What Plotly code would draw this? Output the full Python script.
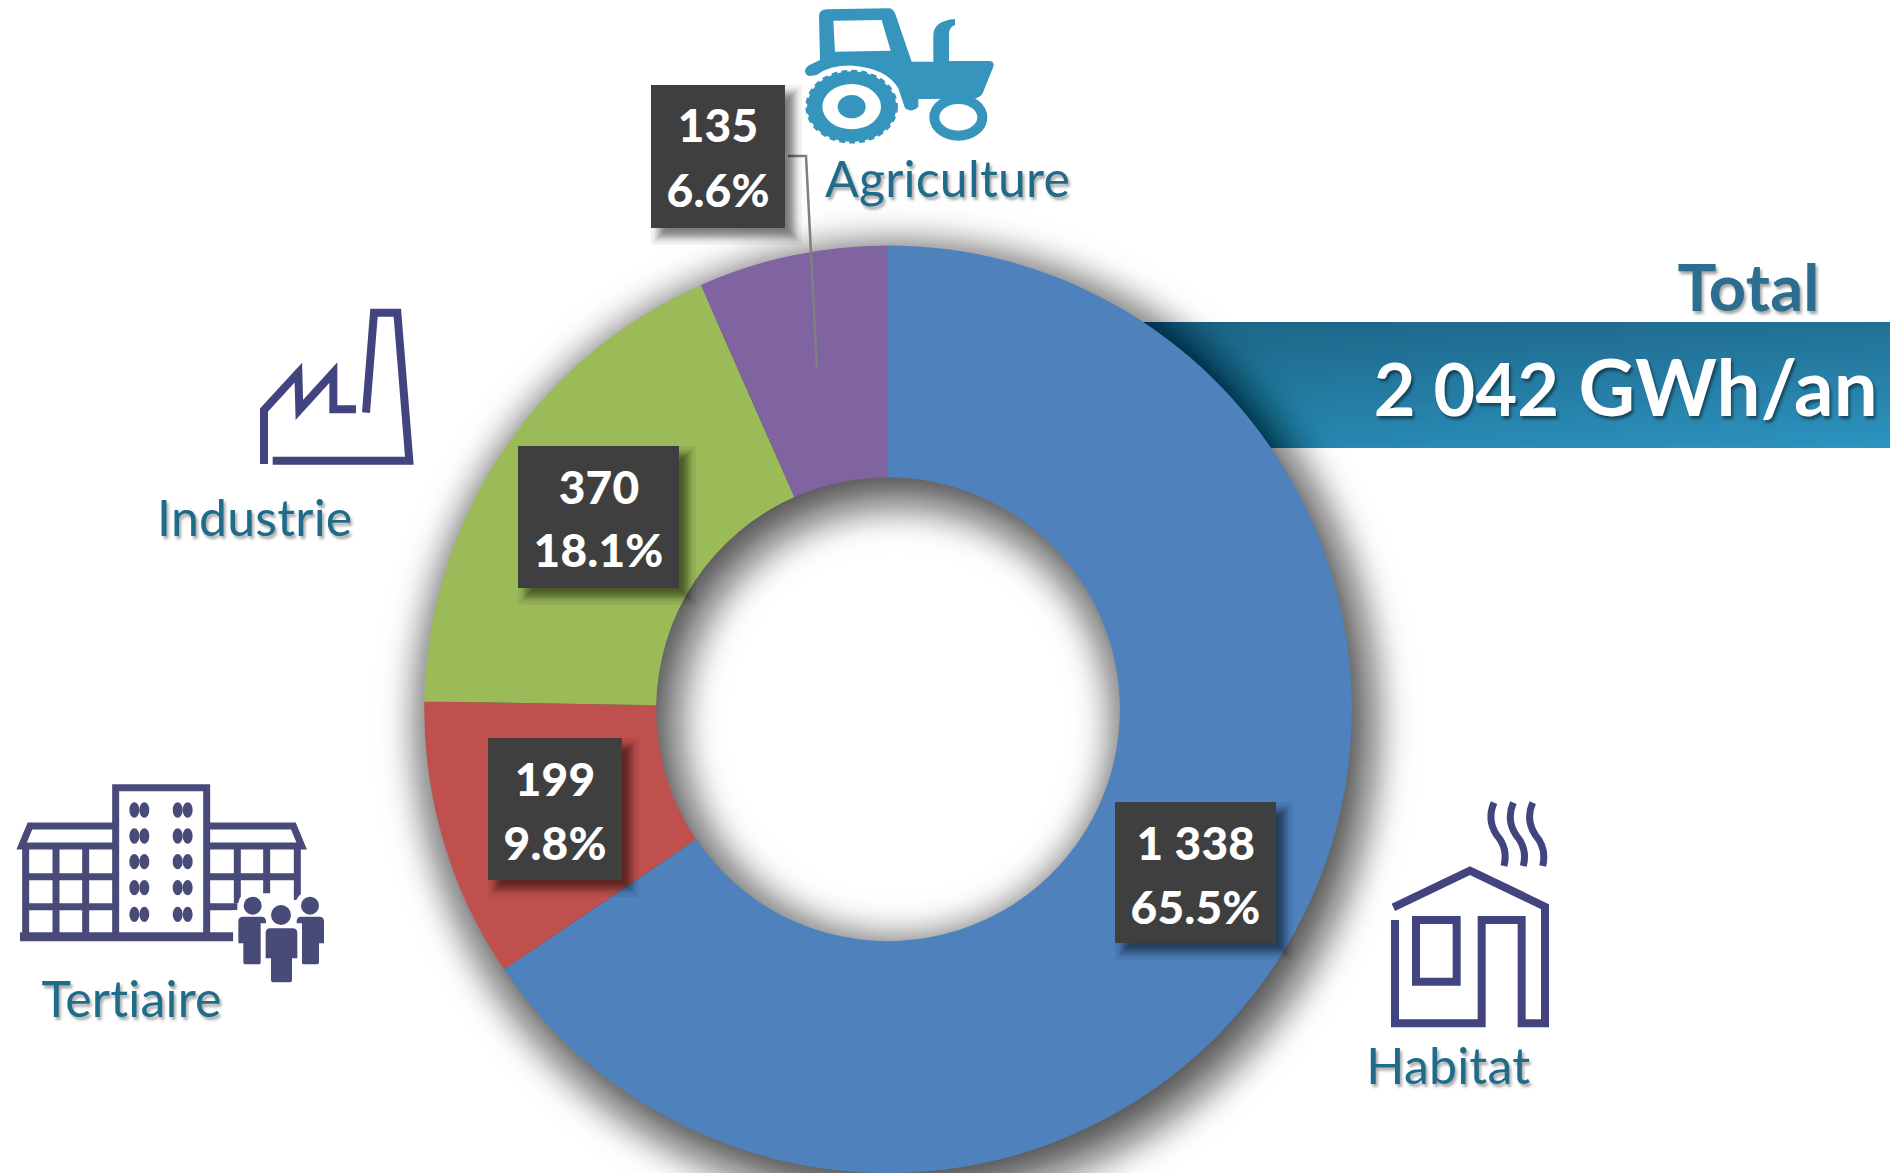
import re
from statistics import NormalDist
import plotly.graph_objects as go

# ---------- data ----------
sectors = ["Habitat", "Tertiaire", "Industrie", "Agriculture"]
gwh = [1338, 199, 370, 135]
gwh_labels = ["1 338", "199", "370", "135"]
pct_labels = ["65.5%", "9.8%", "18.1%", "6.6%"]
slice_colors = ["#4F81BD", "#C0504D", "#9BBB59", "#8064A2"]
total_title = "Total"
total_digits = "2 042"
total_unit = "GWh/an"

W, H = 1890, 1173
CX, CY, R_OUT, R_IN = 888, 709.25, 463.75, 231.9
ICON = "#41447F"
TRACTOR = "#3595BC"
TEAL = "#1F6B8A"
FONT = "Lato"

def px(x): return x / W
def py(y): return 1 - y / H

shapes, annotations = [], []

def path(d, ox=0, oy=0, k=1/3, **style):
    toks = re.findall(r"[MLQCZ]|-?\d+\.?\d*", d)
    out, is_x, cur = [], True, None
    for t in toks:
        if t in "MLQCZ":
            out.append(t); continue
        v = float(t)
        if is_x:
            cur = px(ox + v * k)
        else:
            out.append(f"{cur:.5f},{py(oy + v * k):.5f}")
        is_x = not is_x
    s = dict(type="path", xref="paper", yref="paper", path=" ".join(out),
             line=dict(width=style.pop("lw", 0), color=style.pop("lc", "rgba(0,0,0,0)")),
             fillcolor=style.pop("fill", "rgba(0,0,0,0)"), layer=style.pop("layer", "above"))
    shapes.append(s)

def rect(x0, y0, x1, y1, fill, layer="above"):
    shapes.append(dict(type="rect", xref="paper", yref="paper", x0=px(x0), x1=px(x1),
                       y0=py(y1), y1=py(y0), fillcolor=fill, line=dict(width=0), layer=layer))

def ell(cx, cy, rx, ry, fill="rgba(0,0,0,0)", lw=0, lc="rgba(0,0,0,0)", layer="above", dash=None):
    ln = dict(width=lw, color=lc)
    if dash: ln["dash"] = dash
    shapes.append(dict(type="circle", xref="paper", yref="paper", x0=px(cx - rx), x1=px(cx + rx),
                       y0=py(cy + ry), y1=py(cy - ry), fillcolor=fill, line=ln, layer=layer))

def text(x, y, s, size, color, weight="normal", anchor="center", shadow="none", vanchor="middle"):
    annotations.append(dict(x=px(x), y=py(y), xref="paper", yref="paper", text=s, showarrow=False,
                            xanchor=anchor, yanchor=vanchor, borderpad=0,
                            font=dict(family=FONT, size=size, color=color, weight=weight, shadow=shadow)))

# ---------- teal band, gradient built from strips ----------
B_X0, B_X1, B_Y0, B_Y1 = 1120, 1890, 322, 448
n_cols = 77
for i in range(n_cols):
    t = i / (n_cols - 1)
    c = (round(38 + 7 * t), round(132 + 16 * t), round(172 + 20 * t))
    rect(B_X0 + i * 10, B_Y0, B_X0 + (i + 1) * 10, B_Y1, f"rgb{c}", layer="below")
n_rows = 42
for j in range(n_rows):
    a = 0.30 * (1 - j / (n_rows - 1))
    rect(B_X0, B_Y0 + j * 3, B_X1, B_Y0 + (j + 1) * 3, f"rgba(10,30,50,{a:.3f})", layer="below")

# ---------- soft shadow of the ring, stacked translucent rings ----------
nd = NormalDist()
N = 80
SX, SY, SIG = 9, 14, 30
mid = (R_OUT + R_IN) / 2
thick = R_OUT - R_IN
for i in range(N):
    q = nd.inv_cdf((i + 0.5) / N)
    t = thick + 2 * q * SIG
    alpha = 0.015 * min(1, (min(i, N - 1 - i) + 1) / 8)
    ell(CX + SX, CY + SY, mid, mid, lw=t, lc=f"rgba(0,0,0,{alpha:.4f})", layer="below")

# ---------- connector for the Agriculture label ----------
path("M 788,156 L 806,156 L 817,369", k=1, lw=2.5, lc="#7F7F7F")

# ---------- label boxes ----------
boxes = [(1115, 802, 1276, 943), (488, 738, 622, 880), (518, 446, 679, 588), (651, 85, 785, 228)]
for (x0, y0, x1, y1), v, p in zip(boxes, gwh_labels, pct_labels):
    for i in range(14):
        q = nd.inv_cdf((i + 0.5) / 14) * 5
        rect(x0 + 9 - q, y0 + 9 - q, x1 + 8 + q, y1 + 8 + q, "rgba(0,0,0,0.05)")
    rect(x0, y0, x1, y1, "#3F3F3F")
    cx = (x0 + x1) / 2
    text(cx, y0 + 40, v, 46, "white", 900)
    text(cx, y0 + 104, p, 46, "white", 900)

# ---------- tractor ----------
def tr(d, **kw): path(d, ox=620, oy=0, **kw)
tr("M 555,212 Q 558,198 575,192 L 600,180 L 597,48 Q 598,28 620,28 L 805,25 Q 820,25 826,42 "
   "L 875,185 L 940,185 L 940,105 Q 942,62 1005,57 L 1005,75 Q 985,82 987,108 L 987,183 L 1108,183 "
   "Q 1125,185 1120,200 L 1088,280 Q 1080,295 1060,296 L 895,297 L 895,320 Q 875,340 855,325 "
   "L 835,265 Q 800,205 700,197 Q 630,195 590,225 L 570,228 Q 555,225 555,212 Z "
   "M 640,62 L 645,155 L 812,152 L 785,60 Z", fill=TRACTOR)
ell(620 + 695 / 3, 320 / 3, 134 / 3, 106 / 3, fill=TRACTOR)
ell(620 + 695 / 3, 320 / 3, 135 / 3, 107 / 3, lw=2.5, lc=TRACTOR, dash="6px,4px")
ell(620 + 695 / 3, 320 / 3, 88 / 3, 68 / 3, fill="white")
ell(620 + 695 / 3, 320 / 3, 42 / 3, 35 / 3, fill=TRACTOR)
ell(620 + 1015 / 3, 352 / 3, 72 / 3, 55 / 3, lw=10, lc=TRACTOR, fill="white")

# ---------- factory ----------
path("M 372,522 L 372,360 L 475,248 L 478,360 L 580,248 L 580,358 L 648,358", ox=140, oy=290, lw=8, lc=ICON)
path("M 678,368 L 702,68 L 772,68 L 808,512 L 398,512", ox=140, oy=290, lw=8, lc=ICON)

# ---------- office building ----------
BLD = "#484A78"
def bl(d, lw=7): path(d, ox=0, oy=770, lw=lw, lc=BLD)
bl("M 347,500 L 347,53 L 620,53 L 620,500")
bl("M 347,168 L 90,168 L 65,228 L 347,228")
bl("M 620,168 L 880,168 L 905,228 L 620,228")
bl("M 60,500 L 700,500", lw=9)
bl("M 77,228 L 77,500 M 168,228 L 168,500 M 257,228 L 257,500")
bl("M 77,320 L 347,320 M 77,410 L 347,410")
bl("M 712,228 L 712,400 M 800,228 L 800,370 M 892,228 L 892,390")
bl("M 620,320 L 892,320 M 620,410 L 712,410")
for yy in (120, 198, 275, 353, 433):
    for xx in (403, 433, 533, 563):
        ell(xx / 3, 770 + yy / 3, 15 / 3, 23 / 3, fill=BLD)

def person(hx, hy, hr, bx0, by0, bx1, by1, lx0, ly1):
    lx1 = bx0 + bx1 - lx0
    r = 14
    path(f"M {bx0+r},{by0} L {bx1-r},{by0} Q {bx1},{by0} {bx1},{by0+r} L {bx1},{by1} L {lx1},{by1} L {lx1},{ly1-8} "
         f"Q {lx1},{ly1} {lx1-8},{ly1} L {lx0+8},{ly1} Q {lx0},{ly1} {lx0},{ly1-8} L {lx0},{by1} L {bx0},{by1} "
         f"L {bx0},{by0+r} Q {bx0},{by0} {bx0+r},{by0} Z", ox=0, oy=770, fill=BLD, lw=0)
    ell(hx / 3, 770 + hy / 3, hr / 3, hr / 3, fill=BLD)

# white halo behind the people
ell(758 / 3, 770 + 407 / 3, 44 / 3, 44 / 3, fill="white")
ell(930 / 3, 770 + 407 / 3, 44 / 3, 44 / 3, fill="white")
rect(700 / 3, 770 + 420 / 3, 990 / 3, 770 + 600 / 3, "white")
person(758, 407, 27, 715, 440, 798, 520, 730, 583)
person(930, 407, 27, 890, 440, 972, 520, 905, 583)
rect(782 / 3, 770 + 460 / 3, 906 / 3, 770 + 650 / 3, "white")
person(843, 435, 30, 797, 475, 892, 565, 813, 637)

# ---------- house ----------
def hs(d, lw=8): path(d, ox=1340, oy=780, lw=lw, lc=ICON)
hs("M 160,382 L 390,272 L 615,380 L 615,730 L 545,730 L 545,420 L 425,420 L 425,730 L 165,730 L 165,420")
hs("M 228,420 L 350,420 L 350,605 L 228,605 Z")
for dx in (0, 58, 116):
    hs(f"M {462+dx},68 Q {440+dx},120 {470+dx},165 Q {505+dx},205 {492+dx},258", lw=7)

# ---------- sector names ----------
SH = "2px 3px 3px rgba(0,0,0,0.35)"
text(825, 178, sectors[3], 50, TEAL, anchor="left", shadow=SH)
text(157, 517, sectors[2], 50, TEAL, anchor="left", shadow=SH)
text(41, 998, sectors[1], 50, TEAL, anchor="left", shadow=SH)
text(1366, 1065, sectors[0], 50, TEAL, anchor="left", shadow=SH)

# ---------- total ----------
text(1820, 286, total_title, 65, "#2B6E8F", "bold", anchor="right", shadow="2px 3px 3px rgba(0,0,0,0.35)")
text(1878, 386, f'<span style="font-size:72px">{total_digits}</span> {total_unit}', 78, "white", "bold",
     anchor="right", shadow="2px 3px 3px rgba(0,0,0,0.45)")

# ---------- figure ----------
fig = go.Figure(go.Pie(
    labels=sectors, values=gwh, hole=0.5, sort=False, direction="clockwise", rotation=0,
    marker=dict(colors=slice_colors, line=dict(width=0)),
    textinfo="none", hoverinfo="label+value+percent", showlegend=False,
    domain=dict(x=[(CX - R_OUT) / W, (CX + R_OUT) / W], y=[0, 1 - (CY - R_OUT) / H]),
))
fig.update_layout(width=W, height=H, margin=dict(l=0, r=0, t=0, b=0), paper_bgcolor="white",
                  plot_bgcolor="white", shapes=shapes, annotations=annotations, showlegend=False)
post = ("document.body.style.margin='0';document.documentElement.style.overflow='hidden';"
        "var s=document.createElement('style');"
        "s.textContent='.annotation-text{font-variant-ligatures:none !important;letter-spacing:0.2px;}';"
        "document.head.appendChild(s);")
fig.write_html("out.html", config=dict(displayModeBar=False), post_script=post)
